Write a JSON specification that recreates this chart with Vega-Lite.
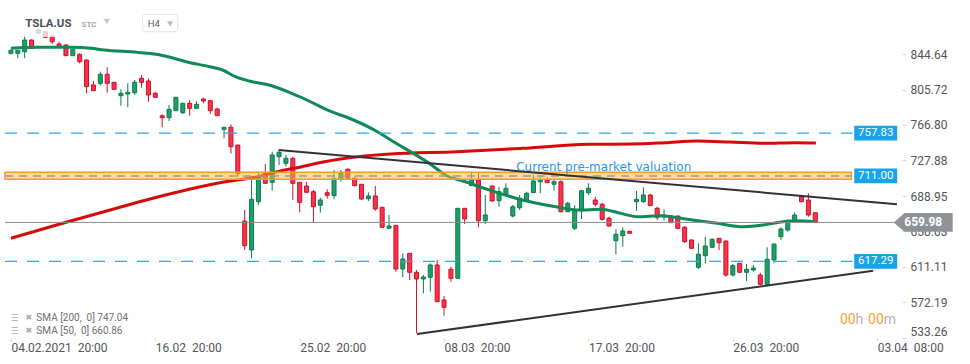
{
"$schema": "https://vega.github.io/schema/vega-lite/v6.json",
"width": 900,
"height": 338,
"autosize": {"type": "none"},
"padding": {"left": 0, "top": 0, "right": 70, "bottom": 26},
"background": "#ffffff",
"config": {"view": {"stroke": null}, "font": "Roboto"},
"datasets": {
"candles": [
{"i":0,"o":845.41,"h":849.58,"l":844.10,"c":848.70},
{"i":1,"o":845.41,"h":849.03,"l":839.93,"c":848.70},
{"i":2,"o":847.17,"h":865.48,"l":839.93,"c":859.99},
{"i":3,"o":859.99,"h":860.54,"l":850.13,"c":850.89},
{"i":4,"o":867.67,"h":872.05,"l":866.57,"c":870.96},
{"i":5,"o":869.09,"h":869.86,"l":862.19,"c":862.95},
{"i":6,"o":864.38,"h":865.48,"l":855.61,"c":858.10},
{"i":7,"o":855.61,"h":858.10,"l":852.32,"c":852.65},
{"i":8,"o":854.51,"h":855.61,"l":842.45,"c":842.78},
{"i":9,"o":842.78,"h":850.13,"l":842.45,"c":849.80},
{"i":10,"o":844.32,"h":845.41,"l":834.45,"c":836.20},
{"i":11,"o":838.07,"h":838.61,"l":801.56,"c":808.79},
{"i":12,"o":810.66,"h":815.04,"l":804.08,"c":804.41},
{"i":13,"o":812.52,"h":825.24,"l":809.89,"c":822.39},
{"i":14,"o":822.39,"h":830.06,"l":802.21,"c":812.52},
{"i":15,"o":813.62,"h":813.95,"l":805.50,"c":805.94},
{"i":16,"o":798.92,"h":805.94,"l":787.96,"c":801.56},
{"i":17,"o":800.79,"h":812.52,"l":786.21,"c":802.65},
{"i":18,"o":802.21,"h":816.14,"l":799.69,"c":813.62},
{"i":19,"o":818.00,"h":821.62,"l":807.69,"c":813.62},
{"i":20,"o":815.04,"h":818.00,"l":792.35,"c":799.69},
{"i":21,"o":801.56,"h":803.31,"l":796.95,"c":797.17},
{"i":22,"o":776.99,"h":778.53,"l":764.27,"c":774.80},
{"i":23,"o":774.80,"h":788.73,"l":771.19,"c":784.01},
{"i":24,"o":782.48,"h":797.50,"l":782.15,"c":797.17},
{"i":25,"o":780.28,"h":790.92,"l":778.86,"c":790.59},
{"i":26,"o":790.59,"h":794.21,"l":776.99,"c":785.11},
{"i":27,"o":785.11,"h":793.11,"l":784.89,"c":789.49},
{"i":28,"o":795.30,"h":796.73,"l":790.59,"c":793.11},
{"i":29,"o":793.44,"h":793.88,"l":778.86,"c":782.48},
{"i":30,"o":784.34,"h":785.77,"l":776.67,"c":776.99},
{"i":31,"o":762.09,"h":764.60,"l":752.22,"c":764.27},
{"i":32,"o":764.27,"h":767.56,"l":735.77,"c":743.01},
{"i":33,"o":744.87,"h":744.87,"l":710.12,"c":713.84},
{"i":34,"o":661.55,"h":673.61,"l":629.75,"c":634.46},
{"i":35,"o":629.75,"h":710.12,"l":620.64,"c":685.26},
{"i":36,"o":682.70,"h":715.60,"l":679.09,"c":710.12},
{"i":37,"o":713.84,"h":724.04,"l":702.66,"c":702.88},
{"i":38,"o":703.97,"h":737.53,"l":694.76,"c":733.91},
{"i":39,"o":732.05,"h":739.39,"l":722.94,"c":736.87},
{"i":40,"o":724.81,"h":733.91,"l":721.08,"c":730.29},
{"i":41,"o":730.29,"h":732.05,"l":684.57,"c":702.88},
{"i":42,"o":703.97,"h":704.30,"l":671.08,"c":682.04},
{"i":43,"o":699.92,"h":704.63,"l":692.79,"c":693.01},
{"i":44,"o":693.67,"h":695.53,"l":659.68,"c":677.23},
{"i":45,"o":678.76,"h":687.09,"l":670.64,"c":684.57},
{"i":46,"o":692.57,"h":696.30,"l":686.00,"c":689.72},
{"i":47,"o":689.28,"h":717.46,"l":685.34,"c":708.36},
{"i":48,"o":707.59,"h":717.46,"l":704.63,"c":713.84},
{"i":49,"o":718.23,"h":719.33,"l":708.14,"c":708.36},
{"i":50,"o":708.36,"h":710.12,"l":699.92,"c":700.25},
{"i":51,"o":701.78,"h":702.11,"l":684.57,"c":685.67},
{"i":52,"o":686.00,"h":693.01,"l":683.47,"c":688.96},
{"i":53,"o":688.96,"h":699.92,"l":672.84,"c":674.70},
{"i":54,"o":676.57,"h":676.90,"l":654.42,"c":654.64},
{"i":55,"o":653.54,"h":668.12,"l":653.32,"c":656.06},
{"i":56,"o":656.83,"h":657.16,"l":605.96,"c":608.93},
{"i":57,"o":608.93,"h":626.14,"l":599.82,"c":619.89},
{"i":58,"o":626.14,"h":626.46,"l":596.86,"c":605.31},
{"i":59,"o":605.31,"h":607.82,"l":538.42,"c":597.95},
{"i":60,"o":597.95,"h":602.34,"l":582.27,"c":600.15},
{"i":61,"o":599.82,"h":615.17,"l":584.03,"c":613.30},
{"i":62,"o":613.30,"h":618.79,"l":572.74,"c":573.07},
{"i":63,"o":574.93,"h":579.32,"l":557.72,"c":566.93},
{"i":64,"o":608.60,"h":611.44,"l":594.99,"c":598.72},
{"i":65,"o":598.72,"h":675.80,"l":598.50,"c":675.46},
{"i":66,"o":675.46,"h":675.80,"l":658.26,"c":663.74},
{"i":67,"o":700.25,"h":715.60,"l":699.92,"c":706.50},
{"i":68,"o":706.50,"h":713.84,"l":654.64,"c":661.88},
{"i":69,"o":661.88,"h":690.05,"l":658.26,"c":668.12},
{"i":70,"o":699.92,"h":700.47,"l":682.92,"c":683.47},
{"i":71,"o":683.80,"h":699.15,"l":677.23,"c":693.67},
{"i":72,"o":690.05,"h":702.88,"l":689.50,"c":697.40},
{"i":73,"o":667.03,"h":679.09,"l":665.60,"c":677.23},
{"i":74,"o":676.13,"h":690.05,"l":673.61,"c":686.44},
{"i":75,"o":684.57,"h":693.67,"l":684.02,"c":691.91},
{"i":76,"o":692.57,"h":711.98,"l":692.24,"c":705.40},
{"i":77,"o":704.63,"h":710.12,"l":691.91,"c":706.50},
{"i":78,"o":706.50,"h":709.46,"l":703.21,"c":703.54},
{"i":79,"o":701.78,"h":706.50,"l":694.76,"c":704.63},
{"i":80,"o":704.63,"h":705.95,"l":671.08,"c":671.74},
{"i":81,"o":671.74,"h":682.70,"l":671.41,"c":680.95},
{"i":82,"o":653.54,"h":679.09,"l":651.68,"c":673.61},
{"i":83,"o":672.84,"h":695.53,"l":663.74,"c":694.76},
{"i":84,"o":692.57,"h":702.88,"l":690.05,"c":697.40},
{"i":85,"o":684.57,"h":688.19,"l":677.23,"c":679.86},
{"i":86,"o":679.86,"h":681.61,"l":661.88,"c":663.41},
{"i":87,"o":664.51,"h":666.26,"l":655.29,"c":656.06},
{"i":88,"o":639.94,"h":652.45,"l":625.04,"c":646.96},
{"i":89,"o":645.43,"h":654.64,"l":633.37,"c":650.58},
{"i":90,"o":650.25,"h":650.58,"l":647.84,"c":648.05},
{"i":91,"o":682.70,"h":694.43,"l":672.84,"c":685.26},
{"i":92,"o":682.70,"h":698.49,"l":681.61,"c":690.05},
{"i":93,"o":690.05,"h":691.15,"l":677.99,"c":678.32},
{"i":94,"o":675.46,"h":677.23,"l":662.64,"c":665.60},
{"i":95,"o":666.26,"h":674.37,"l":661.88,"c":668.12},
{"i":96,"o":667.03,"h":668.12,"l":659.35,"c":659.68},
{"i":97,"o":667.03,"h":667.36,"l":652.45,"c":653.54},
{"i":98,"o":654.64,"h":656.06,"l":637.75,"c":638.85},
{"i":99,"o":640.71,"h":641.48,"l":631.39,"c":631.61},
{"i":100,"o":610.78,"h":637.09,"l":608.93,"c":625.04},
{"i":101,"o":623.50,"h":644.33,"l":615.17,"c":634.14},
{"i":102,"o":632.71,"h":642.57,"l":632.49,"c":641.48},
{"i":103,"o":642.57,"h":642.90,"l":629.75,"c":637.75},
{"i":104,"o":639.62,"h":639.95,"l":600.48,"c":602.34},
{"i":105,"o":602.34,"h":614.41,"l":600.48,"c":612.54},
{"i":106,"o":615.17,"h":615.50,"l":605.08,"c":605.31},
{"i":107,"o":605.31,"h":614.41,"l":595.76,"c":608.60},
{"i":108,"o":607.82,"h":613.30,"l":605.96,"c":610.02},
{"i":109,"o":602.34,"h":604.86,"l":591.38,"c":592.14},
{"i":110,"o":592.14,"h":632.71,"l":591.92,"c":619.56},
{"i":111,"o":618.79,"h":636.66,"l":615.17,"c":636.33},
{"i":112,"o":644.33,"h":654.64,"l":640.71,"c":652.77},
{"i":113,"o":651.68,"h":663.41,"l":649.81,"c":661.88},
{"i":114,"o":661.55,"h":671.08,"l":660.78,"c":668.12},
{"i":115,"o":688.19,"h":690.05,"l":682.04,"c":682.70},
{"i":116,"o":684.57,"h":691.91,"l":666.26,"c":668.12},
{"i":117,"o":670.64,"h":670.86,"l":659.98,"c":659.98}
],
"sma50": [
{"i":0,"v":850.89},{"i":3.88,"v":851.99},{"i":8.77,"v":851.99},{"i":11.65,"v":850.89},{"i":13.52,"v":849.03},
{"i":18.27,"v":846.51},{"i":21.15,"v":844.32},{"i":23.16,"v":841.03},{"i":25.46,"v":836.20},{"i":28.91,"v":830.72},
{"i":30.78,"v":827.10},{"i":32.65,"v":819.76},{"i":34.67,"v":815.04},{"i":37.54,"v":810.66},{"i":40.85,"v":801.56},
{"i":42.29,"v":796.95},{"i":46.6,"v":781.38},{"i":49.48,"v":773.38},{"i":53.37,"v":759.12},{"i":55.24,"v":750.35},
{"i":60.99,"v":724.04},{"i":63.44,"v":710.88},{"i":65.74,"v":705.40},{"i":69.62,"v":695.53},{"i":74.37,"v":684.57},
{"i":79.26,"v":677.23},{"i":82.57,"v":673.61},{"i":85.87,"v":674.37},{"i":88.32,"v":670.64},{"i":91.20,"v":666.26},
{"i":94.51,"v":667.36},{"i":98.39,"v":663.41},{"i":102.7,"v":659.03},{"i":106.59,"v":655.29},{"i":109.47,"v":657.16},
{"i":112.34,"v":660.78},{"i":114.21,"v":661.88},{"i":116.94,"v":660.86}
],
"sma200": [
{"i":0,"v":642.57},{"i":7.77,"v":659.68},{"i":13.52,"v":671.74},{"i":19.27,"v":683.80},{"i":25.03,"v":694.76},
{"i":30.78,"v":703.97},{"i":35.53,"v":709.46},{"i":39.84,"v":717.46},{"i":42.29,"v":721.08},{"i":45.6,"v":726.56},
{"i":50.49,"v":732.05},{"i":55.24,"v":735.01},{"i":64.87,"v":737.53},{"i":74.37,"v":741.26},{"i":84.0,"v":745.64},
{"i":90.19,"v":745.97},{"i":95.08,"v":747.40},{"i":99.83,"v":749.26},{"i":104.58,"v":748.16},{"i":109.47,"v":746.74},
{"i":114.21,"v":747.40},{"i":117.09,"v":747.04}
],
"levels": [
{"level":757.83,"kind":"res"},
{"level":711.00,"kind":"pre"},
{"level":617.29,"kind":"sup"}
],
"last": [{"level":659.98}],
"zone": [{"from":707.27,"to":714.94}],
"trend": [
{"line":"upper","i":38.94,"v":739.39},
{"line":"upper","i":128.88,"v":679.86},
{"line":"lower","i":59.08,"v":537.65},
{"line":"lower","i":125.43,"v":606.94}
]
},
"layer": [
{
"data": {"name": "candles"},
"mark": {"type": "rule", "strokeWidth": 1},
"encoding": {
"x": {"field": "i", "type": "quantitative", "scale": {"domain": [-0.863, 128.596], "nice": false, "zero": false},
"axis": {"values": [0,21,42,63,84,105,126], "labelExpr": "datum.value == 0 ? '04.02.2021\u00a0\u00a020:00' : datum.value == 21 ? '16.02\u00a0\u00a020:00' : datum.value == 42 ? '25.02\u00a0\u00a020:00' : datum.value == 63 ? '08.03\u00a0\u00a020:00' : datum.value == 84 ? '17.03\u00a0\u00a020:00' : datum.value == 105 ? '26.03\u00a0\u00a020:00' : '03.04\u00a0\u00a008:00'", "title": null, "grid": false, "domain": false, "zindex": 0, "tickSize": 3, "tickColor": "#d6d6d6", "labelAlign": "left", "labelBaseline": "top", "labelPadding": 1, "labelFontSize": 12, "labelColor": "#555555", "labelFont": "Roboto", "labelFlush": false}},
"y": {"field": "l", "type": "quantitative", "scale": {"domain": [533.26, 903.85], "nice": false, "zero": false},
"axis": {"orient": "right", "values": [533.26,572.19,611.11,650.03,688.95,727.88,766.80,805.72,844.64], "format": ".2f", "title": null, "grid": false, "domain": false, "zindex": 0, "tickSize": 4, "offset": 2, "tickColor": "#d6d6d6", "labelPadding": 4, "labelFontSize": 12, "labelColor": "#555555", "labelFont": "Roboto", "labelFlush": true}},
"y2": {"field": "h"},
"color": {"condition": {"test": "datum.c >= datum.o", "value": "#0b7a4b"}, "value": "#c8102e"}
}
},
{
"data": {"name": "candles"},
"mark": {"type": "bar", "width": 4, "strokeWidth": 1},
"encoding": {
"x": {"field": "i", "type": "quantitative"},
"y": {"field": "o", "type": "quantitative"},
"y2": {"field": "c"},
"fill": {"condition": {"test": "datum.c >= datum.o", "value": "#1fa067"}, "value": "#fa3346"},
"stroke": {"condition": {"test": "datum.c >= datum.o", "value": "#0b7a4b"}, "value": "#c8102e"}
}
},
{
"data": {"name": "sma200"},
"mark": {"type": "line", "color": "#d60a0a", "strokeWidth": 3, "interpolate": "monotone"},
"encoding": {
"x": {"field": "i", "type": "quantitative"},
"y": {"field": "v", "type": "quantitative"}
}
},
{
"data": {"name": "sma50"},
"mark": {"type": "line", "color": "#0f8a56", "strokeWidth": 3, "interpolate": "monotone"},
"encoding": {
"x": {"field": "i", "type": "quantitative"},
"y": {"field": "v", "type": "quantitative"}
}
},
{
"data": {"name": "levels"},
"transform": [{"filter": "datum.kind != 'pre'"}],
"mark": {"type": "rule", "color": "#2aa8f0", "strokeWidth": 1.3, "strokeDash": [12, 10]},
"encoding": {
"x": {"datum": -0.863},
"x2": {"datum": 122.41},
"y": {"field": "level", "type": "quantitative"}
}
},
{
"data": {"name": "last"},
"mark": {"type": "rule", "color": "#8c8c8c", "strokeWidth": 1},
"encoding": {
"x": {"datum": -0.863},
"x2": {"datum": 128.596},
"y": {"field": "level", "type": "quantitative"}
}
},
{
"data": {"name": "zone"},
"mark": {"type": "rect", "fill": "#ffb340", "fillOpacity": 0.5, "stroke": "#f5a01a", "strokeWidth": 1.5},
"encoding": {
"x": {"datum": -0.863},
"x2": {"datum": 122.27},
"y": {"field": "from", "type": "quantitative"},
"y2": {"field": "to"}
}
},
{
"data": {"name": "levels"},
"transform": [{"filter": "datum.kind == 'pre'"}],
"mark": {"type": "rule", "color": "#9a9a9a", "strokeWidth": 1.5, "strokeDash": [8, 6]},
"encoding": {
"x": {"datum": -0.863},
"x2": {"datum": 122.27},
"y": {"field": "level", "type": "quantitative"}
}
},
{
"data": {"name": "trend"},
"mark": {"type": "line", "color": "#2f3337", "strokeWidth": 2, "clip": false},
"encoding": {
"x": {"field": "i", "type": "quantitative"},
"y": {"field": "v", "type": "quantitative"},
"detail": {"field": "line"}
}
},
{
"data": {"values": [{}]},
"mark": {"type": "text", "text": "Current pre-market valuation", "font": "DejaVu Sans", "fontSize": 12, "fill": "#2b95ee", "align": "left", "baseline": "alphabetic"},
"encoding": {
"x": {"datum": 73.5},
"y": {"datum": 715.82}
}
},
{
"data": {"name": "levels"},
"mark": {"type": "point", "shape": "M-1,-0.34L1,-0.34L1,0.34L-1,0.34Z", "size": 1849, "filled": true, "fill": "#1aa3e8", "opacity": 1, "strokeWidth": 0, "clip": false},
"encoding": {
"x": {"datum": 125.79},
"y": {"field": "level", "type": "quantitative"}
}
},
{
"data": {"name": "levels"},
"mark": {"type": "text", "fill": "#ffffff", "fontSize": 11.5, "font": "Roboto", "align": "center", "baseline": "middle", "clip": false},
"encoding": {
"x": {"datum": 125.79},
"y": {"field": "level", "type": "quantitative"},
"text": {"field": "level", "format": ".2f"}
}
},
{
"data": {"name": "last"},
"mark": {"type": "point", "shape": "M-1,0L-0.63,-0.32L1,-0.32L1,0.32L-0.63,0.32Z", "size": 3481, "filled": true, "fill": "#8d9399", "opacity": 1, "strokeWidth": 0, "clip": false},
"encoding": {
"x": {"datum": 132.70},
"y": {"field": "level", "type": "quantitative"}
}
},
{
"data": {"name": "last"},
"mark": {"type": "text", "fill": "#ffffff", "fontSize": 12, "fontWeight": "bold", "font": "Roboto", "align": "center", "baseline": "middle", "clip": false},
"encoding": {
"x": {"datum": 132.70},
"y": {"field": "level", "type": "quantitative"},
"text": {"field": "level", "format": ".2f"}
}
},
{
"data": {"values": [{}]},
"mark": {"type": "rect", "fill": "#ffffff", "fillOpacity": 0.75},
"encoding": {
"x": {"datum": 1.29}, "x2": {"datum": 15.25},
"y": {"datum": 895.08}, "y2": {"datum": 863.28}
}
},
{
"data": {"values": [{}]},
"mark": {"type": "text", "text": "TSLA.US", "font": "Roboto", "fontSize": 11.5, "fontWeight": "bold", "fill": "#4b4f54", "align": "left", "baseline": "alphabetic"},
"encoding": {"x": {"datum": 2.09}, "y": {"datum": 873.92}}
},
{
"data": {"values": [{}]},
"mark": {"type": "text", "text": "STC", "font": "Roboto", "fontSize": 8, "fontWeight": "bold", "fill": "#9ea7b0", "align": "left", "baseline": "alphabetic"},
"encoding": {"x": {"datum": 10.26}, "y": {"datum": 874.58}}
},
{
"data": {"values": [{}]},
"mark": {"type": "point", "shape": "triangle-down", "size": 40, "filled": true, "fill": "#c6c6c6", "opacity": 1},
"encoding": {"x": {"datum": 13.95}, "y": {"datum": 880.28}}
},
{
"data": {"values": [{}]},
"mark": {"type": "rect", "fill": "#ffffff", "stroke": "#e3e3e3", "strokeWidth": 1, "cornerRadius": 3},
"encoding": {
"x": {"datum": 19.17}, "x2": {"datum": 24.27},
"y": {"datum": 888.17}, "y2": {"datum": 869.09}
}
},
{
"data": {"values": [{}]},
"mark": {"type": "text", "text": "H4", "font": "Roboto", "fontSize": 9.5, "fill": "#5a5a5a", "align": "left", "baseline": "alphabetic"},
"encoding": {"x": {"datum": 19.89}, "y": {"datum": 873.92}}
},
{
"data": {"values": [{}]},
"mark": {"type": "point", "shape": "triangle-down", "size": 40, "filled": true, "fill": "#bdbdbd", "opacity": 1},
"encoding": {"x": {"datum": 23.16}, "y": {"datum": 877.54}}
},
{
"data": {"values": [{"row": "SMA [200,\u00a0\u00a00] 747.04"}]},
"mark": {"type": "text", "font": "Roboto", "fontSize": 10, "fill": "#6f6f6f", "align": "left", "baseline": "middle"},
"encoding": {
"x": {"datum": 3.70},
"y": {"datum": 555.19},
"text": {"field": "row"}
}
},
{
"data": {"values": [{"row": "SMA [50,\u00a0\u00a00] 660.86"}]},
"mark": {"type": "text", "font": "Roboto", "fontSize": 10, "fill": "#6f6f6f", "align": "left", "baseline": "middle"},
"encoding": {
"x": {"datum": 3.70},
"y": {"datum": 540.94},
"text": {"field": "row"}
}
},
{
"data": {"values": [{}]},
"mark": {"type": "text", "text": "☰", "font": "DejaVu Sans", "fontSize": 9, "fill": "#a8a8a8", "align": "center", "baseline": "middle"},
"encoding": {"x": {"datum": 0.53}, "y": {"datum": 555.19}}
},
{
"data": {"values": [{}]},
"mark": {"type": "text", "text": "☰", "font": "DejaVu Sans", "fontSize": 9, "fill": "#a8a8a8", "align": "center", "baseline": "middle"},
"encoding": {"x": {"datum": 0.53}, "y": {"datum": 540.94}}
},
{
"data": {"values": [{}]},
"mark": {"type": "text", "text": "✖", "font": "DejaVu Sans", "fontSize": 8, "fill": "#a8a8a8", "align": "center", "baseline": "middle"},
"encoding": {"x": {"datum": 2.59}, "y": {"datum": 555.19}}
},
{
"data": {"values": [{}]},
"mark": {"type": "text", "text": "✖", "font": "DejaVu Sans", "fontSize": 8, "fill": "#a8a8a8", "align": "center", "baseline": "middle"},
"encoding": {"x": {"datum": 2.59}, "y": {"datum": 540.94}}
},
{
"data": {"values": [{}]},
"mark": {"type": "text", "text": "00", "font": "Roboto", "fontSize": 14, "fill": "#f7a035", "align": "left", "baseline": "alphabetic"},
"encoding": {"x": {"datum": 120.58}, "y": {"datum": 548.62}}
},
{
"data": {"values": [{}]},
"mark": {"type": "text", "text": "h", "font": "Roboto", "fontSize": 14, "fill": "#b3b3b3", "align": "left", "baseline": "alphabetic"},
"encoding": {"x": {"datum": 122.84}, "y": {"datum": 548.62}}
},
{
"data": {"values": [{}]},
"mark": {"type": "text", "text": "00", "font": "Roboto", "fontSize": 14, "fill": "#f7a035", "align": "left", "baseline": "alphabetic"},
"encoding": {"x": {"datum": 124.67}, "y": {"datum": 548.62}}
},
{
"data": {"values": [{}]},
"mark": {"type": "text", "text": "m", "font": "Roboto", "fontSize": 14, "fill": "#b3b3b3", "align": "left", "baseline": "alphabetic"},
"encoding": {"x": {"datum": 126.97}, "y": {"datum": 548.62}}
}
]
}
